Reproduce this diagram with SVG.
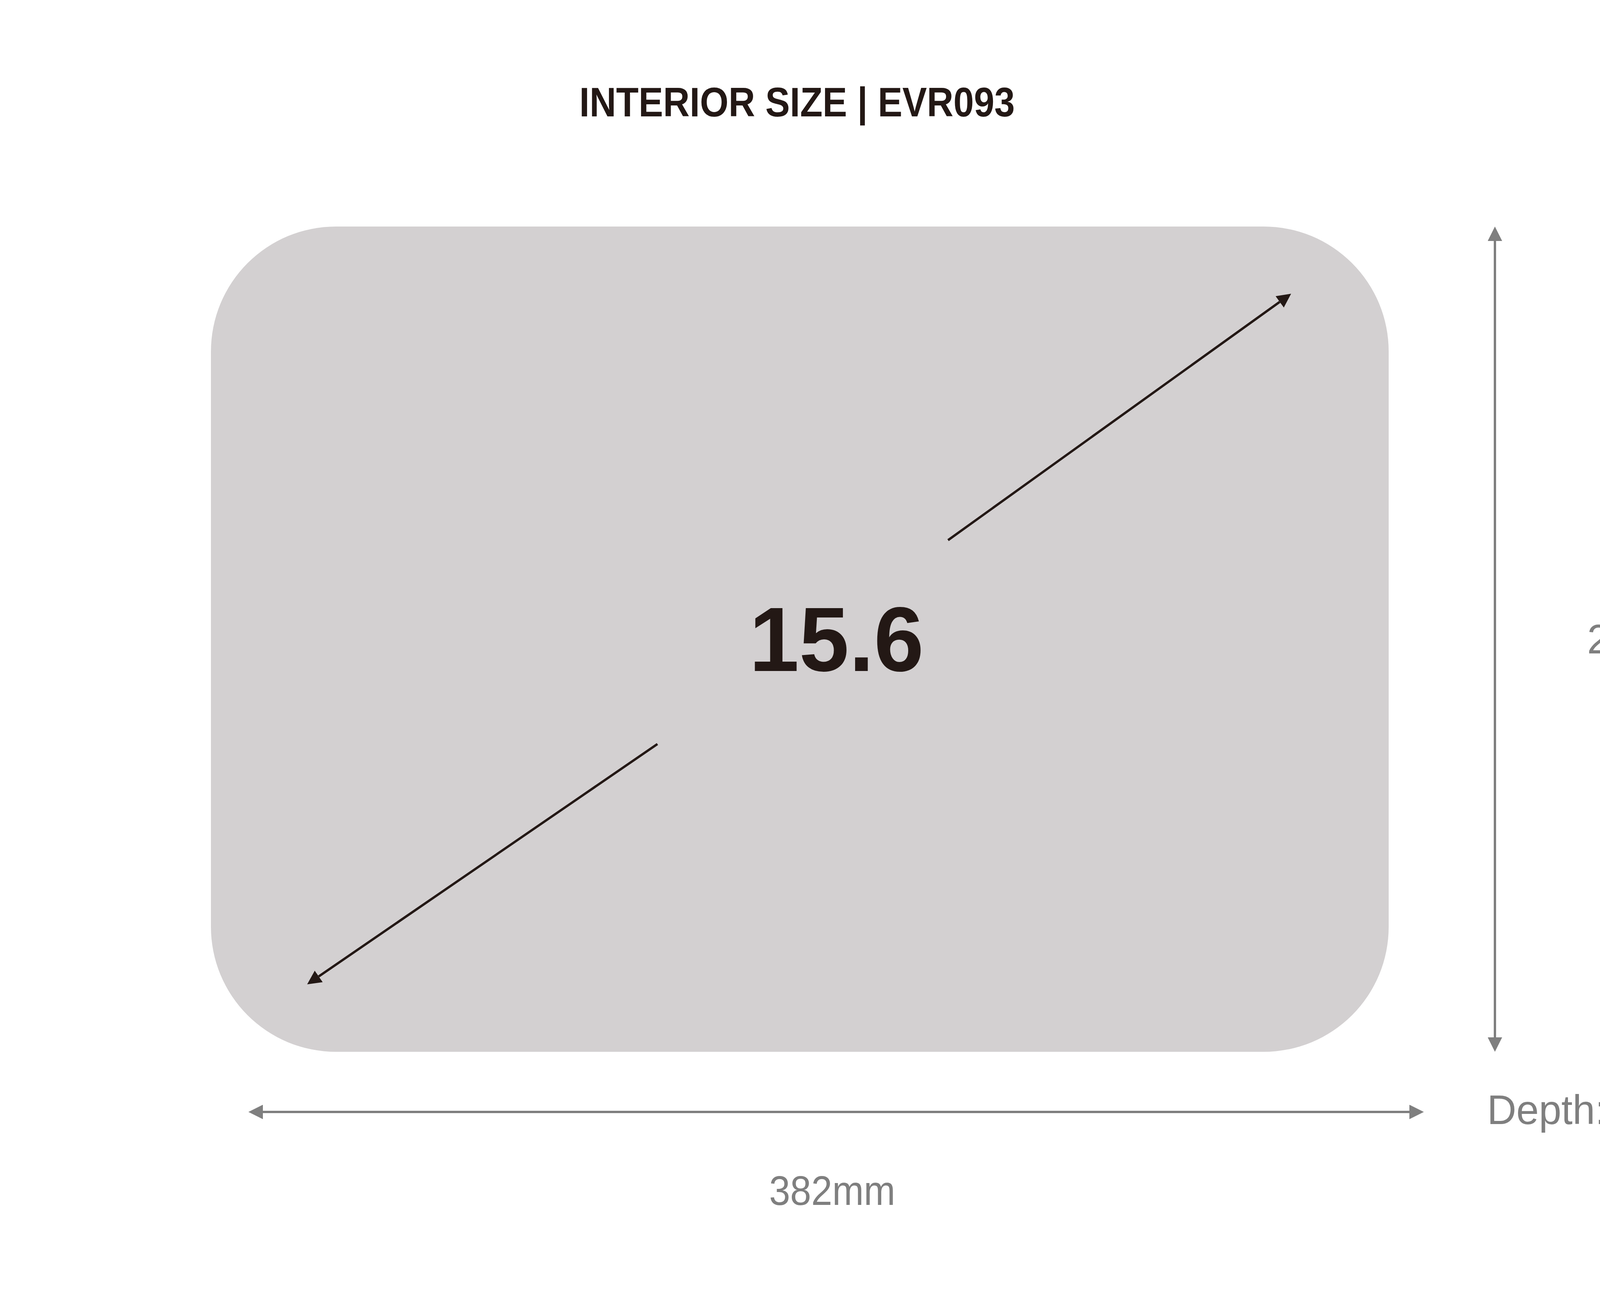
<svg xmlns="http://www.w3.org/2000/svg" width="4678" height="3308" viewBox="0 0 4678 3308">
<style>
.dark{fill:#231815;font-family:"Liberation Sans",Arial,sans-serif;font-weight:bold}
.gray{fill:#7f7f7f;font-family:"Liberation Sans",Arial,sans-serif}
.gline{stroke:#7f7f7f;stroke-width:6;fill:none}
.dline{stroke:#231815;stroke-width:6;fill:none}
</style>
<defs>
<marker id="gh" viewBox="0 0 37 37" refX="0" refY="18.5" markerWidth="37" markerHeight="37" markerUnits="userSpaceOnUse" orient="auto-start-reverse">
<path d="M0,0 L37,18.5 L0,37 z" fill="#7f7f7f"/>
</marker>
<marker id="dh" viewBox="0 0 36 36" refX="0" refY="18" markerWidth="36" markerHeight="36" markerUnits="userSpaceOnUse" orient="auto">
<path d="M0,0 L36,18 L0,36 z" fill="#231815"/>
</marker>
</defs>
<rect width="4678" height="3308" fill="#ffffff"/>
<g id="title">
<text class="dark" x="1483" y="298" font-size="105" textLength="1115" lengthAdjust="spacingAndGlyphs">INTERIOR SIZE | EVR093</text>
</g>
<g id="panel">
<rect x="540" y="580" width="3015" height="2113" rx="320" ry="320" fill="#d3d0d1"/>
<text class="dark" x="1918" y="1718" font-size="233" textLength="447" lengthAdjust="spacingAndGlyphs">15.6</text>
</g>
<g id="connectors">
<line class="dline" x1="2427" y1="1383" x2="3276" y2="773" marker-end="url(#dh)"/>
<line class="dline" x1="1683" y1="1905" x2="816" y2="2500" marker-end="url(#dh)"/>
<line class="gline" x1="3827" y1="617" x2="3827" y2="2656" marker-start="url(#gh)" marker-end="url(#gh)"/>
<line class="gline" x1="673" y1="2847" x2="3608" y2="2847" marker-start="url(#gh)" marker-end="url(#gh)"/>
</g>
<g id="labels">
<text class="gray" x="4063" y="1673" font-size="105" textLength="361" lengthAdjust="spacing">268 mm</text>
<text class="gray" x="3807" y="2878" font-size="105" textLength="593" lengthAdjust="spacingAndGlyphs">Depth:26mm</text>
<text class="gray" x="1969" y="3085" font-size="105" textLength="323" lengthAdjust="spacingAndGlyphs">382mm</text>
</g>
</svg>
